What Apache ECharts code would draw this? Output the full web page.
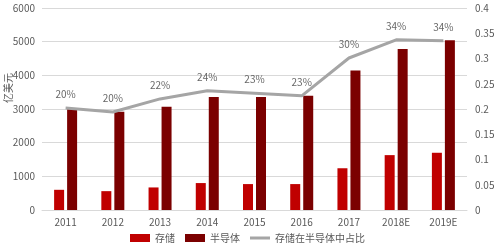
<!DOCTYPE html>
<html><head><meta charset="utf-8">
<script src="https://cdn.jsdelivr.net/npm/echarts@6/dist/echarts.min.js"></script>
<style>html,body{margin:0;padding:0;background:#fff}#c{width:495px;height:249px}</style>
</head><body><div id="c"></div>
<script>
const categories = ['2011','2012','2013','2014','2015','2016','2017','2018E','2019E'];
const storage = [600, 560, 670, 800, 770, 770, 1240, 1630, 1700];
const semiconductor = [2990, 2920, 3070, 3360, 3360, 3390, 4140, 4780, 5040];
const ratio = [0.202, 0.194, 0.220, 0.236, 0.231, 0.226, 0.301, 0.337, 0.335];
const ratioLabels = ['20%','20%','22%','24%','23%','23%','30%','34%','34%'];

const chart = echarts.init(document.getElementById('c'));
const txt = '#595959';
const ff = '"Noto Sans CJK SC", "Noto Sans", sans-serif';
chart.setOption({
  animation: false,
  textStyle: {fontFamily: ff},
  grid: {left: 42, right: 28, top: 8, bottom: 39, containLabel: false, outerBoundsMode: 'none'},
  legend: {
    bottom: 1, left: 'center', itemGap: 10, itemWidth: 20, itemHeight: 8,
    textStyle: {color: txt, fontSize: 10, fontFamily: ff},
    data: [
      {name: '存储', icon: 'rect'},
      {name: '半导体', icon: 'rect'},
      {name: '存储在半导体中占比', icon: 'path://M0,0 M0,8 M0,2.5 L20,2.5 L20,5.5 L0,5.5 Z'}
    ]
  },
  xAxis: {
    type: 'category', data: categories,
    axisLine: {lineStyle: {color: '#d9d9d9'}},
    axisTick: {show: false},
    axisLabel: {color: txt, fontSize: 10, margin: 7}
  },
  yAxis: [
    {
      type: 'value', min: 0, max: 6000, interval: 1000,
      name: '亿美元', nameLocation: 'middle', nameGap: 29, nameRotate: 90,
      nameMoveOverlap: false,
      nameTextStyle: {color: txt, fontSize: 10, padding: [0, 0, 0, 42]},
      axisLine: {show: false}, axisTick: {show: false},
      axisLabel: {color: txt, fontSize: 10, margin: 7, formatter: v => String(v)},
      splitLine: {lineStyle: {color: '#d9d9d9'}}
    },
    {
      type: 'value', min: 0, max: 0.4, interval: 0.05,
      axisLine: {show: false}, axisTick: {show: false},
      axisLabel: {color: txt, fontSize: 10, margin: 8, formatter: v => String(+v.toFixed(2))},
      splitLine: {show: false}
    }
  ],
  series: [
    {name: '存储', type: 'bar', data: storage, barWidth: 10, barGap: '30%',
     itemStyle: {color: '#c00000'}},
    {name: '半导体', type: 'bar', data: semiconductor, barWidth: 10,
     itemStyle: {color: '#7b0000'}},
    {name: '存储在半导体中占比', type: 'line', yAxisIndex: 1, data: ratio,
     symbol: 'none', lineStyle: {color: '#a5a5a5', width: 3},
     itemStyle: {color: '#a5a5a5'}},
    {name: 'ratioLabels', type: 'scatter', yAxisIndex: 1, data: ratio,
     symbolSize: 0, silent: true,
     label: {show: true, position: 'top', distance: 9, color: '#404040', fontSize: 10,
       formatter: p => ratioLabels[p.dataIndex]}}
  ]
});
</script></body></html>
